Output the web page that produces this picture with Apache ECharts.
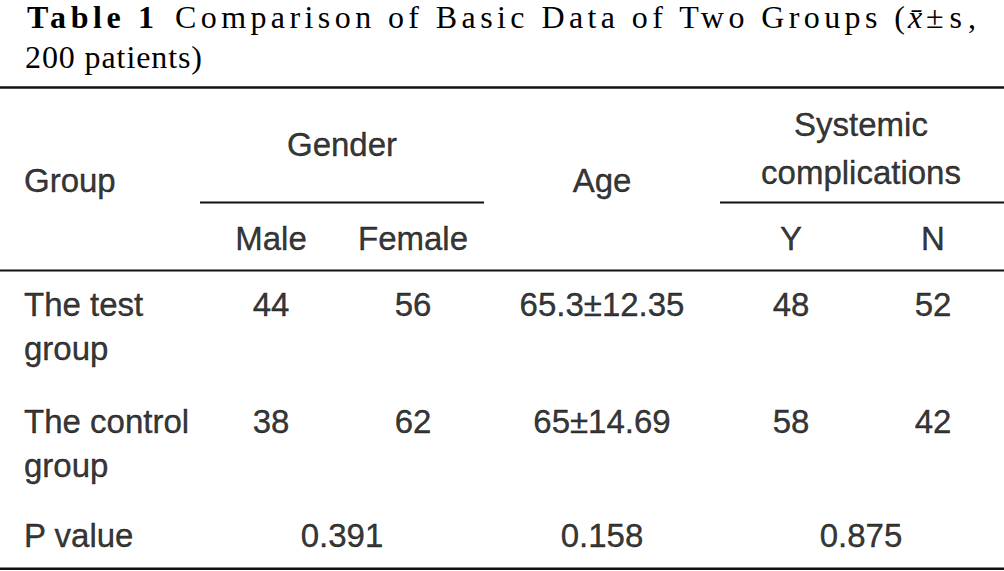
<!DOCTYPE html>
<html><head><meta charset="utf-8">
<script src="https://cdn.jsdelivr.net/npm/echarts@6/dist/echarts.min.js"></script>
<style>html,body{margin:0;padding:0;background:#fff}#c{width:1004px;height:571px}</style>
</head><body><div id="c"></div>
<script>
// ---------- data ----------
const titleLead = 'Table 1';
const titleMain = 'Comparison of Basic Data of Two Groups (';
const titleStat = 'x\u0304';
const titleTail = '\u00b1s,';
const titleLine2 = '200 patients)';
const headGroup = 'Group';
const headGender = 'Gender';
const headAge = 'Age';
const headComp = 'Systemic\ncomplications';
const subHeads = ['Male', 'Female', 'Y', 'N'];
const groups = ['The test\ngroup', 'The control\ngroup'];
const maleCounts = [44, 38];
const femaleCounts = [56, 62];
const ageValues = ['65.3\u00b112.35', '65\u00b114.69'];
const compYes = [48, 58];
const compNo = [52, 42];
const pLabel = 'P value';
const pValues = ['0.391', '0.158', '0.875'];

// ---------- layout (positions / styles) ----------
const W = 1004, H = 571;
const colX = { group: 24, male: 271, female: 413, gender: 342, age: 602, y: 791, n: 933, comp: 861 };
const subCols = ['male', 'female', 'y', 'n'];
const rowY = { comp: 148.6, gender: 144.6, group: 180.8, sub: 238.6, rows: [326.6, 443.3], p: 535.6 };
const lh = { comp: 48.6, rows: 44 };
const rules = [
  { x0: 0, x1: W, y: 87.5, w: 2.6 },
  { x0: 200, x1: 484, y: 202.5, w: 2 },
  { x0: 720, x1: W, y: 202.5, w: 2 },
  { x0: 0, x1: W, y: 270.5, w: 2 },
  { x0: 0, x1: W, y: 568.8, w: 2.6 }
];
const bodyFont = { fontFamily: 'Liberation Sans', fontSize: 33, color: '#000', textBorderColor: '#000', textBorderWidth: 0.4 };
const serif = 'Liberation Serif';
const titleSize = 32;
// target visible widths of the title pieces (letter-spaced in the reference)
const titleFit = {};
titleFit[titleLead] = 127;
titleFit[titleMain] = 730;
titleFit[titleTail] = 50;
titleFit[titleLine2] = 177;

// ---------- build cells ----------
const cells = [];
function cell(text, x, y, align, lineHeight) {
  cells.push({ value: [x, y], label: { formatter: text, align: align || 'center', lineHeight: lineHeight || 40 } });
}
cell(headGroup, colX.group, rowY.group, 'left');
cell(headGender, colX.gender, rowY.gender);
cell(headAge, colX.age, rowY.group);
cell(headComp, colX.comp, rowY.comp, 'center', lh.comp);
subHeads.forEach((s, i) => cell(s, colX[subCols[i]], rowY.sub));
groups.forEach((g, i) => {
  const y = rowY.rows[i];
  const top = y - lh.rows / 2;
  cell(g, colX.group, y, 'left', lh.rows);
  cell(String(maleCounts[i]), colX.male, top);
  cell(String(femaleCounts[i]), colX.female, top);
  cell(ageValues[i], colX.age, top);
  cell(String(compYes[i]), colX.y, top);
  cell(String(compNo[i]), colX.n, top);
});
cell(pLabel, colX.group, rowY.p, 'left');
cell(pValues[0], colX.gender, rowY.p);
cell(pValues[1], colX.age, rowY.p);
cell(pValues[2], colX.comp, rowY.p);

const ruleSeries = rules.map(r => ({
  type: 'line', silent: true, symbol: 'none', animation: false,
  data: [[r.x0, r.y], [r.x1, r.y]],
  lineStyle: { color: '#111', width: r.w }
}));

function tstyle(extra) {
  return Object.assign({ fontFamily: serif, fontSize: titleSize, lineHeight: titleSize, color: '#000', fontWeight: 'normal' }, extra || {});
}

const chart = echarts.init(document.getElementById('c'), null, { renderer: 'svg', width: W, height: H });
chart.setOption({
  animation: false,
  backgroundColor: '#fff',
  title: [
    { text: titleLead, left: 27, top: 1, padding: 0, textStyle: tstyle({ fontWeight: 'bold' }) },
    { text: titleMain, left: 175, top: 1, padding: 0, textStyle: tstyle() },
    { text: titleStat, left: 908, top: 1, padding: 0, textStyle: tstyle({ fontStyle: 'italic' }) },
    { text: titleTail, left: 926, top: 1, padding: 0, textStyle: tstyle() },
    { text: titleLine2, left: 25, top: 41, padding: 0, textStyle: tstyle() }
  ],
  grid: { left: 0, right: 0, top: 0, bottom: 0, containLabel: false },
  xAxis: { type: 'value', min: 0, max: W, show: false },
  yAxis: { type: 'value', min: 0, max: H, inverse: true, show: false },
  series: ruleSeries.concat([{
    type: 'scatter', silent: true, symbolSize: 1,
    itemStyle: { color: 'rgba(0,0,0,0)' },
    label: Object.assign({ show: true, position: 'inside', verticalAlign: 'middle' }, bodyFont),
    labelLayout: { hideOverlap: false },
    emphasis: { disabled: true },
    data: cells
  }])
});

// letter-spacing for the serif title, fitted to the reference widths
let fitted = false;
function fitTitle() {
  if (fitted) return;
  const texts = document.querySelectorAll('#c text');
  texts.forEach(t => {
    const target = titleFit[t.textContent];
    if (target == null) return;
    t.removeAttribute('letter-spacing');
    const nat = t.getComputedTextLength();
    const n = Array.from(t.textContent).length;
    const ls = Math.max(0, (target - nat) / (n - 1));
    t.setAttribute('letter-spacing', ls.toFixed(2));
    t.style.letterSpacing = ls.toFixed(2) + 'px';
  });
  fitted = true;
}
chart.on('finished', fitTitle);
setTimeout(fitTitle, 50);
</script>
</body></html>
